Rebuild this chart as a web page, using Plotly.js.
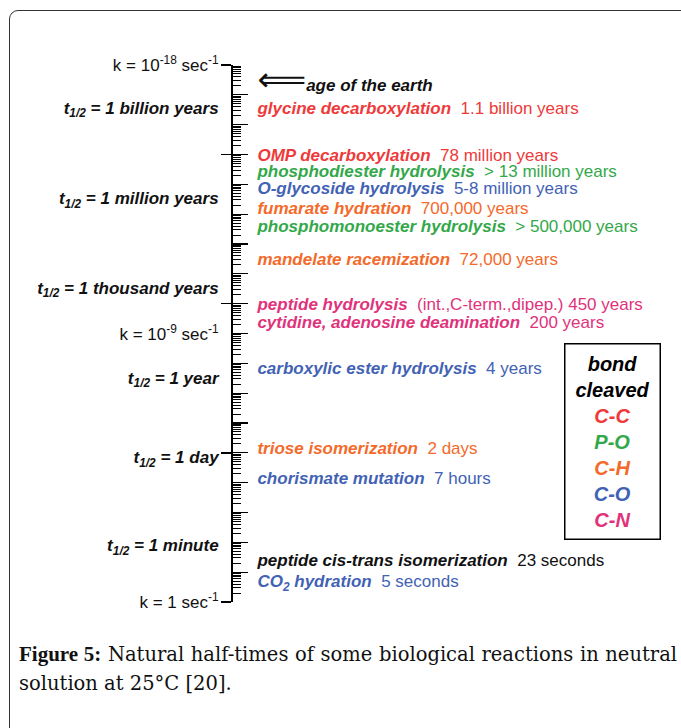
<!DOCTYPE html>
<html><head><meta charset="utf-8">
<script src="https://cdn.plot.ly/plotly-3.0.1.min.js"></script>
<style>
html,body{margin:0;padding:0;width:681px;height:728px;overflow:hidden;background:#fff;}
#frame{position:absolute;left:9px;top:10px;width:720px;height:760px;border:1px solid #333;border-radius:9px;box-sizing:border-box;}
#chart{position:absolute;left:0;top:0;width:681px;height:728px;}
#caption{position:absolute;left:19px;top:640px;width:658px;font-family:"DejaVu Serif",serif;font-size:19.5px;line-height:29px;text-align:justify;color:#111;}
#caption b{font-family:"Liberation Serif",serif;font-size:21px;font-weight:bold;}
</style></head>
<body>
<div id="frame"></div>
<div id="chart"></div>
<div id="caption"><b>Figure 5:</b> Natural half-times of some biological reactions in neutral solution at 25°C [20].</div>
<script>
// Reactions (name, half-time text, bond cleaved, label position on the k axis as log10(k/sec^-1))
const rxnNames = [
  "glycine decarboxylation", "OMP decarboxylation", "phosphodiester hydrolysis",
  "O-glycoside hydrolysis", "fumarate hydration", "phosphomonoester hydrolysis",
  "mandelate racemization", "peptide hydrolysis", "cytidine, adenosine deamination",
  "carboxylic ester hydrolysis", "triose isomerization", "chorismate mutation",
  "peptide cis-trans isomerization", "CO<sub>2</sub> hydration"
];
const rxnTimes = [
  "1.1 billion years", "78 million years", "&gt; 13 million years",
  "5-8 million years", "700,000 years", "&gt; 500,000 years",
  "72,000 years", "(int.,C-term.,dipep.) 450 years", "200 years",
  "4 years", "2 days", "7 hours",
  "23 seconds", "5 seconds"
];
const rxnBond = ["C-C","C-C","P-O","C-O","C-H","P-O","C-H","C-N","C-N","C-O","C-H","C-O","none","C-O"];
const rxnLogK = [-16.49, -14.92, -14.38, -13.81, -13.14, -12.54, -11.43, -9.92, -9.32, -7.78, -5.10, -4.09, -1.34, -0.64];

// Marker: age of the earth
const earthLabel = "age of the earth";
const earthLogK = -17.26;

// Scale labels on the left of the axis
const scaleLabels = [
  "k = 10<sup>-18</sup> sec<sup>-1</sup>",
  "<b><i>t<sub>1/2</sub> = 1 billion years</i></b>",
  "<b><i>t<sub>1/2</sub> = 1 million years</i></b>",
  "<b><i>t<sub>1/2</sub> = 1 thousand years</i></b>",
  "k = 10<sup>-9</sup> sec<sup>-1</sup>",
  "<b><i>t<sub>1/2</sub> = 1 year</i></b>",
  "<b><i>t<sub>1/2</sub> = 1 day</i></b>",
  "<b><i>t<sub>1/2</sub> = 1 minute</i></b>",
  "k = 1 sec<sup>-1</sup>"
];
const scaleLogK = [-18, -16.56, -13.54, -10.53, -8.98, -7.51, -4.86, -1.91, 0];
const longTickLogK = [-18, -15, -10, -5, 0];

// Legend: bond cleaved
const bondTypes = ["C-C", "P-O", "C-H", "C-O", "C-N"];
const bondColors = {"C-C":"#ee3a3a","P-O":"#33a84a","C-H":"#f36a2b","C-O":"#4262b4","C-N":"#e0337b","none":"#111111"};

const pow10 = v => Math.pow(10, v);

const rxnText = rxnNames.map((n,i)=>"<b><i>"+n+"</i></b>  "+rxnTimes[i]);
const rxnColor = rxnBond.map(b=>bondColors[b]);
const textX = 0.0545;

const traces = [
  {
    type:"scatter", mode:"text", x: rxnNames.map(()=>textX), y: rxnLogK.map(pow10),
    text: rxnText, textposition:"middle right", cliponaxis:false,
    textfont:{family:"Liberation Sans, Arial, sans-serif", size:17, color: rxnColor},
    hoverinfo:"skip", showlegend:false, xaxis:"x", yaxis:"y"
  },
  {
    type:"scatter", mode:"text", x:[textX], y:[pow10(earthLogK)],
    text:['<span style="font-family:DejaVu Sans;font-size:34px">⟸</span><b><i>'+earthLabel+'</i></b>'],
    textposition:"middle right", cliponaxis:false,
    textfont:{family:"Liberation Sans, Arial, sans-serif", size:17, color:"#111"},
    hoverinfo:"skip", showlegend:false, xaxis:"x", yaxis:"y"
  },
  {type:"scatter", mode:"markers", x:[null], y:[1], marker:{opacity:0}, hoverinfo:"skip", showlegend:false, xaxis:"x", yaxis:"y2"},
  {type:"scatter", mode:"markers", x:[null], y:[1], marker:{opacity:0}, hoverinfo:"skip", showlegend:false, xaxis:"x", yaxis:"y3"}
];

const yDomain = [1-602/728, 1-65/728];
const axX = 233/681;

const layout = {
  width:681, height:728, margin:{l:0,r:0,t:0,b:0},
  paper_bgcolor:"rgba(0,0,0,0)", plot_bgcolor:"rgba(0,0,0,0)",
  showlegend:false,
  xaxis:{domain:[axX,1], range:[0,1], visible:false, fixedrange:true},
  yaxis:{
    type:"log", range:[0,-18], domain:yDomain, anchor:"x",
    showline:true, linecolor:"#000", linewidth:2, showgrid:false, zeroline:false,
    tickmode:"array", tickvals: longTickLogK.map(pow10), ticks:"outside", ticklen:10, tickwidth:1.5, tickcolor:"#000",
    showticklabels:false
  },
  yaxis2:{
    type:"log", range:[0,-18], domain:yDomain, anchor:"x", overlaying:"y",
    showline:false, showgrid:false, zeroline:false,
    tickmode:"array", tickvals: scaleLogK.map(pow10), ticktext: scaleLabels,
    ticks:"outside", ticklen:10, tickcolor:"rgba(0,0,0,0)",
    tickfont:{family:"Liberation Sans, Arial, sans-serif", size:17, color:"#111"}
  },
  yaxis3:{
    type:"log", range:[0,18], domain:yDomain, anchor:"x", overlaying:"y",
    showline:false, showgrid:false, zeroline:false, showticklabels:false,
    tickmode:"linear", tick0:0, dtick:1, ticks:"inside", ticklen:15, tickwidth:1.3, tickcolor:"#000",
    minor:{dtick:"D1", ticks:"inside", ticklen:8, tickwidth:1, tickcolor:"#000", showgrid:false}
  },
  annotations:[{
    xref:"paper", yref:"paper", x:612/681, y:1-441.5/728, xanchor:"center", yanchor:"middle",
    showarrow:false, width:88, height:188, borderpad:3, bordercolor:"#000", borderwidth:1.5,
    align:"center", valign:"middle",
    font:{family:"Liberation Sans, Arial, sans-serif", size:20, color:"#000"},
    text:"<b><i>bond<br>cleaved<br>"+bondTypes.map(b=>'<span style="color:'+bondColors[b]+'">'+b+'</span>').join("<br>")+"</i></b>"
  }]
};

Plotly.newPlot("chart", traces, layout, {displayModeBar:false, staticPlot:true});
</script>
</body></html>
